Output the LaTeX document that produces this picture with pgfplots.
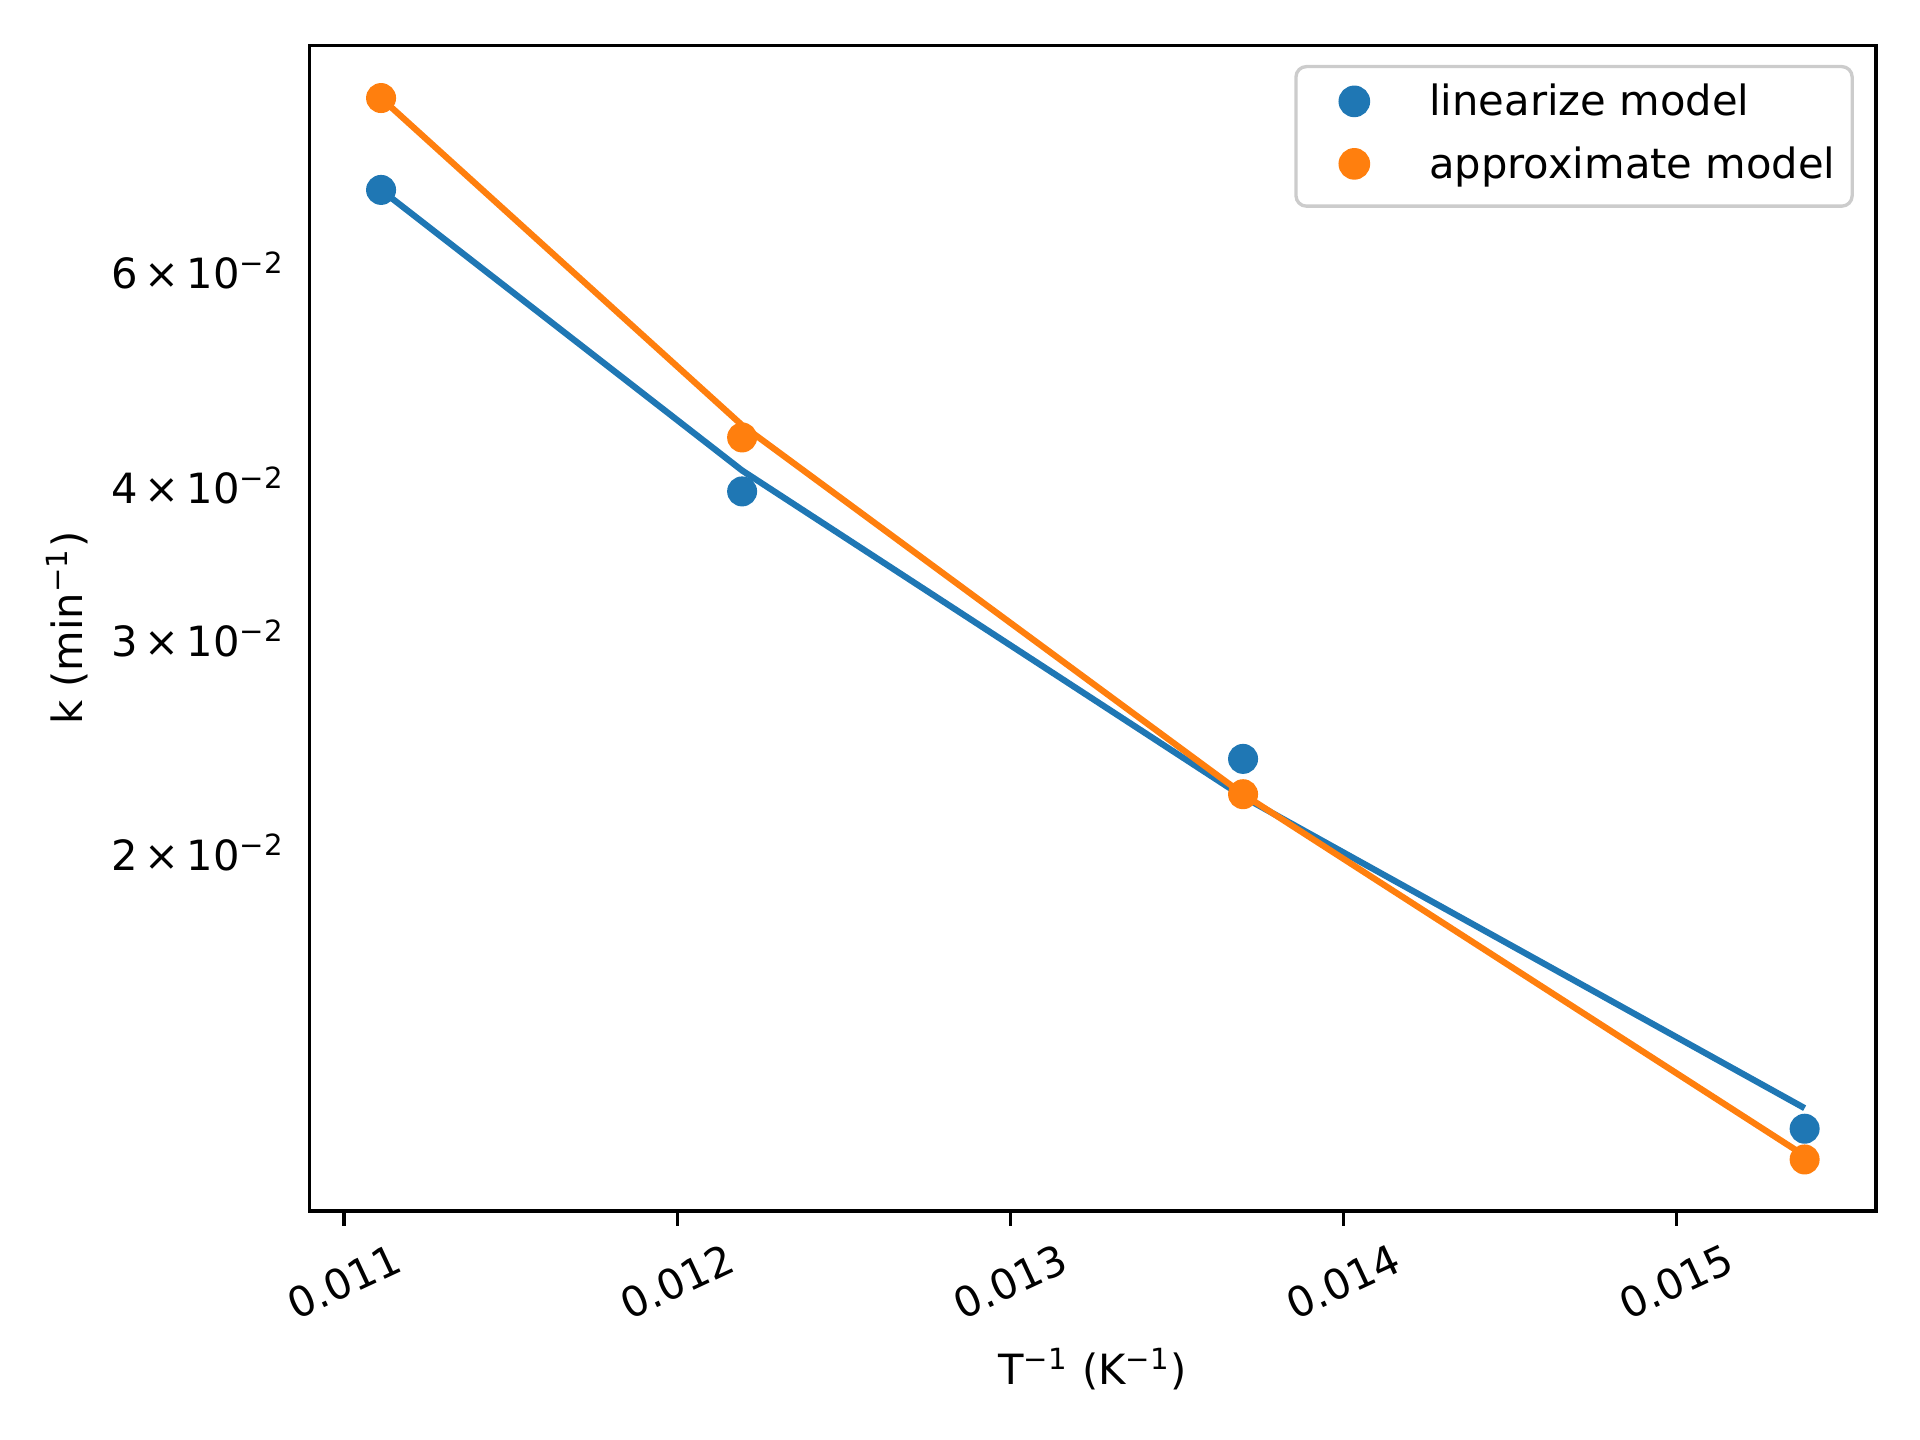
\documentclass[border=0pt]{standalone}
\usepackage{fontspec}
\setmainfont{DejaVu Sans}
\usepackage{pgfplots}
\pgfplotsset{compat=1.18}
\definecolor{c0}{HTML}{1F77B4}
\definecolor{c1}{HTML}{FF7F0E}
\definecolor{lgray}{HTML}{CCCCCC}
\begin{document}
\begin{tikzpicture}
\path[use as bounding box] (-74.35pt,-54.96pt) rectangle (386.45pt,290.64pt);
\begin{axis}[
  at={(0pt,0pt)}, anchor=south west,
  scale only axis, width=375.87pt, height=279.77pt,
  xmin=0.010897, xmax=0.015599,
  ymode=log, ymin=0.01017, ymax=0.09185,
  axis line style={line width=0.8pt},
  tick pos=left, tick align=outside,
  major tick length=3.5pt, minor tick length=2pt,
  every tick/.style={black, line width=0.8pt},
  scaled x ticks=false,
  xtick={0.011,0.012,0.013,0.014,0.015},
  xticklabels={0.011,0.012,0.013,0.014,0.015},
  xticklabel style={yshift=-13.4pt, rotate=25, anchor=center, inner sep=0pt},
  ytick={0.02,0.03,0.04,0.06},
  yticklabels={2\,×\,10\textsuperscript{−2},3\,×\,10\textsuperscript{−2},4\,×\,10\textsuperscript{−2},6\,×\,10\textsuperscript{−2}},
  ytick style={draw=none},
  minor ytick={0.02,0.03,0.04,0.05,0.06,0.07,0.08,0.09},
  yticklabel style={anchor=east, inner sep=0pt, xshift=-2.3pt},
  xlabel={T\textsuperscript{−1} (K\textsuperscript{−1})},
  xlabel style={at={(axis description cs:0.5,-0.1358)}, anchor=center, inner sep=0pt},
  ylabel={k (min\textsuperscript{−1})},
  ylabel style={at={(axis description cs:-0.1548,0.5)}, anchor=center, rotate=0, inner sep=0pt},
  legend style={at={(1,1)}, anchor=north east, xshift=-5.3pt, yshift=-4.7pt,
    draw=lgray, line width=0.8pt, rounded corners=2.5pt, fill=white,
    inner xsep=4pt, inner ysep=4.25pt, row sep=5pt,
    nodes={inner sep=0pt, text height=7.6pt, text depth=2.4pt, anchor=base west}},
  legend cell align=left,
  legend image code/.code={\path[draw=none,fill=none] (0pt,0pt) -- (28pt,0pt); \draw[#1] plot coordinates {(10pt,3.5pt)};},
]
\addplot[c0, line width=1.5pt, forget plot] coordinates {
 (0.011111,0.06991) (0.012195,0.04116) (0.013699,0.02223) (0.015385,0.01235)};
\addplot[c1, line width=1.5pt, forget plot] coordinates {
 (0.011111,0.08315) (0.012195,0.04483) (0.013699,0.02234) (0.015385,0.01129)};
\addplot[c0, only marks, mark=*, mark size=3.4pt, mark options={draw=none, fill=c0}] coordinates {
 (0.011111,0.06991) (0.012195,0.03957) (0.013699,0.02388) (0.015385,0.01188)};
\addlegendentry{linearize model}
\addplot[c1, only marks, mark=*, mark size=3.4pt, mark options={draw=none, fill=c1}] coordinates {
 (0.011111,0.08315) (0.012195,0.04381) (0.013699,0.02234) (0.015385,0.01121)};
\addlegendentry{approximate model}
\end{axis}
\end{tikzpicture}
\end{document}
